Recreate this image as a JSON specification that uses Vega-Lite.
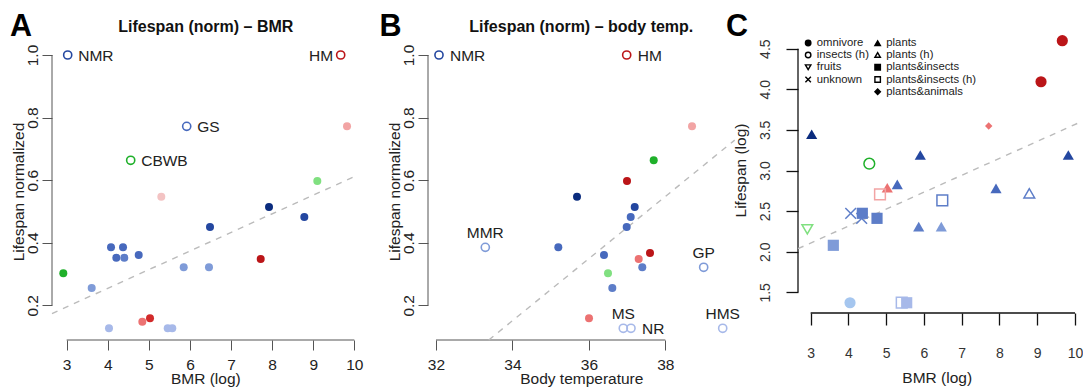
{
"$schema":"https://vega.github.io/schema/vega-lite/v6.json",
"background":"white",
"padding":{"left":10,"top":11,"right":0,"bottom":0},
"bounds":"flush",
"spacing":66,
"config":{"view":{"stroke":null},"font":"Liberation Sans"},
"datasets":{
"pA":[
{"bmr":3.025,"life":1.0,"tone":"blue2","label":"NMR"},
{"bmr":9.668,"life":1.0,"tone":"red1","label":"HM"},
{"bmr":5.921,"life":0.772,"tone":"blue3","label":"GS"},
{"bmr":4.558,"life":0.6635,"tone":"green1","label":"CBWB"},
{"bmr":9.822,"life":0.772,"tone":"red4"},
{"bmr":9.099,"life":0.5973,"tone":"green2"},
{"bmr":5.303,"life":0.5472,"tone":"red5"},
{"bmr":7.924,"life":0.5142,"tone":"blue1"},
{"bmr":8.783,"life":0.4823,"tone":"blue2"},
{"bmr":6.488,"life":0.4503,"tone":"blue2"},
{"bmr":4.079,"life":0.3854,"tone":"blue3"},
{"bmr":4.371,"life":0.3854,"tone":"blue3"},
{"bmr":4.208,"life":0.3522,"tone":"blue3"},
{"bmr":4.402,"life":0.3522,"tone":"blue4"},
{"bmr":4.753,"life":0.3608,"tone":"blue3"},
{"bmr":5.848,"life":0.3215,"tone":"blue5"},
{"bmr":6.463,"life":0.3215,"tone":"blue5"},
{"bmr":7.722,"life":0.3481,"tone":"red1"},
{"bmr":2.918,"life":0.3024,"tone":"green1"},
{"bmr":3.609,"life":0.2554,"tone":"blue5"},
{"bmr":5.028,"life":0.1585,"tone":"red2"},
{"bmr":4.841,"life":0.1477,"tone":"red3"},
{"bmr":4.030,"life":0.1266,"tone":"blue6"},
{"bmr":5.459,"life":0.1266,"tone":"blue6"},
{"bmr":5.570,"life":0.1266,"tone":"blue6"}
],
"pB":[
{"temp":32.078,"life":1.0,"tone":"blue2","label":"NMR"},
{"temp":36.989,"life":1.0,"tone":"red1","label":"HM"},
{"temp":38.698,"life":0.772,"tone":"red4"},
{"temp":37.696,"life":0.6635,"tone":"green1"},
{"temp":36.997,"life":0.5973,"tone":"red1"},
{"temp":35.689,"life":0.5472,"tone":"blue1"},
{"temp":37.199,"life":0.5142,"tone":"blue2"},
{"temp":37.094,"life":0.4823,"tone":"blue3"},
{"temp":36.989,"life":0.4503,"tone":"blue3"},
{"temp":33.290,"life":0.3854,"tone":"blue5","label":"MMR"},
{"temp":35.200,"life":0.3854,"tone":"blue3"},
{"temp":36.395,"life":0.3608,"tone":"blue3"},
{"temp":37.599,"life":0.3672,"tone":"red1"},
{"temp":37.303,"life":0.3481,"tone":"red3"},
{"temp":37.397,"life":0.3215,"tone":"blue4"},
{"temp":36.500,"life":0.3024,"tone":"green2"},
{"temp":36.613,"life":0.2554,"tone":"blue4"},
{"temp":39.003,"life":0.3215,"tone":"blue5","label":"GP"},
{"temp":36.003,"life":0.1585,"tone":"red3"},
{"temp":36.900,"life":0.1266,"tone":"blue6","label":"MS"},
{"temp":37.101,"life":0.1266,"tone":"blue6","label":"NR"},
{"temp":39.501,"life":0.1266,"tone":"blue6","label":"HMS"}
],
"pC":[
{"bmr":9.664,"life":4.598,"diet":"omnivore","tone":"red1"},
{"bmr":9.100,"life":4.093,"diet":"omnivore","tone":"red1"},
{"bmr":7.715,"life":3.548,"diet":"plants&animals","tone":"red3"},
{"bmr":3.027,"life":3.446,"diet":"plants","tone":"blue1"},
{"bmr":4.553,"life":3.084,"diet":"insects (h)","tone":"green1"},
{"bmr":5.903,"life":3.191,"diet":"plants","tone":"blue2"},
{"bmr":9.823,"life":3.191,"diet":"plants","tone":"blue2"},
{"bmr":5.294,"life":2.830,"diet":"plants","tone":"blue3"},
{"bmr":5.029,"life":2.788,"diet":"plants","tone":"red3"},
{"bmr":4.836,"life":2.707,"diet":"plants&insects (h)","tone":"red4"},
{"bmr":7.908,"life":2.781,"diet":"plants","tone":"blue3"},
{"bmr":8.790,"life":2.719,"diet":"plants (h)","tone":"blue4"},
{"bmr":6.486,"life":2.633,"diet":"plants&insects (h)","tone":"blue4"},
{"bmr":4.060,"life":2.473,"diet":"unknown","tone":"blue4"},
{"bmr":4.351,"life":2.411,"diet":"unknown","tone":"blue4"},
{"bmr":4.368,"life":2.473,"diet":"plants&insects","tone":"blue4"},
{"bmr":4.757,"life":2.411,"diet":"plants&insects","tone":"blue4"},
{"bmr":2.911,"life":2.276,"diet":"fruits","tone":"green2"},
{"bmr":3.600,"life":2.079,"diet":"plants&insects","tone":"blue5"},
{"bmr":5.861,"life":2.308,"diet":"plants","tone":"blue4"},
{"bmr":6.459,"life":2.308,"diet":"plants","tone":"blue5"},
{"bmr":4.042,"life":1.372,"diet":"omnivore","tone":"blue7"},
{"bmr":5.411,"life":1.372,"diet":"plants&insects (h)","tone":"blue6"},
{"bmr":5.543,"life":1.372,"diet":"plants&insects","tone":"blue6"}
],
"fitA":[{"bmr":2.643,"life":0.1737},{"bmr":10.089,"life":0.6168}],
"fitB":[{"temp":33.38,"life":0.0892},{"temp":39.815,"life":0.728}],
"fitC":[{"bmr":2.6646,"life":2.0373},{"bmr":10.1059,"life":3.5885}]
},
"hconcat":[
{
"width":310,"height":310,
"data":{"name":"pA"},
"layer":[
{"data":{"values":[{}]},"mark":{"type":"rule","color":"#555","strokeWidth":1,"clip":false},
 "encoding":{"x":{"datum":3,"type":"quantitative","scale":{"domain":[2.6431,10.1866],"nice":false,"zero":false}},"x2":{"datum":10},"y":{"datum":0.0892,"type":"quantitative","scale":{"domain":[0.0892,1.0799],"nice":false,"zero":false}}}},
{"data":{"values":[{}]},"mark":{"type":"rule","color":"#555","strokeWidth":1,"clip":false},
 "encoding":{"x":{"datum":2.6431,"type":"quantitative","scale":{"domain":[2.6431,10.1866],"nice":false,"zero":false}},"y":{"datum":0.2,"type":"quantitative","scale":{"domain":[0.0892,1.0799],"nice":false,"zero":false}},"y2":{"datum":1.0}}},
{"data":{"name":"fitA"},"mark":{"type":"line","color":"#bbbbbb","strokeWidth":1.4,"strokeDash":[6,6],"clip":false},
 "encoding":{"x":{"field":"bmr","type":"quantitative","scale":{"domain":[2.6431,10.1866],"nice":false,"zero":false}},"y":{"field":"life","type":"quantitative","scale":{"domain":[0.0892,1.0799],"nice":false,"zero":false}}}},
{"transform":[{"filter":"!datum.label"}],"mark":{"type":"circle","size":64,"opacity":1,"clip":false},
 "encoding":{
  "x":{"field":"bmr","type":"quantitative","scale":{"domain":[2.6431,10.1866],"nice":false,"zero":false},
   "axis":{"values":[3,4,5,6,7,8,9,10],"title":"BMR (log)","domain":false,"grid":false,"tickSize":10,"tickColor":"#555","tickWidth":1,"labelFontSize":15.5,"labelColor":"#222","labelBaseline":"alphabetic","labelPadding":19,"labelFlush":false,"labelOverlap":false,"titleFontSize":15.5,"titleFontWeight":"normal","titleColor":"#222","titleBaseline":"alphabetic","titleY":43.3,"titleX":153.3}},
  "y":{"field":"life","type":"quantitative","scale":{"domain":[0.0892,1.0799],"nice":false,"zero":false},
   "axis":{"values":[0.2,0.4,0.6,0.8,1.0],"format":".1f","title":"Lifespan normalized","domain":false,"grid":false,"tickSize":10,"tickColor":"#555","tickWidth":1,"labelFontSize":15.5,"labelColor":"#222","labelAngle":-90,"labelAlign":"center","labelBaseline":"alphabetic","labelPadding":4.7,"labelOverlap":false,"labelFlush":false,"titleFontSize":15.5,"titleFontWeight":"normal","titleColor":"#222","titleAngle":-90,"titleBaseline":"alphabetic","titleAlign":"center","titleX":-28.5,"titleY":161.5}},
  "color":{"field":"tone","type":"nominal","legend":null,"scale":{"domain":["blue1","blue2","blue3","blue4","blue5","blue6","blue7","red1","red2","red3","red4","red5","green1","green2"],"range":["#0b2c7e","#2447a0","#4769bd","#5d7dc8","#7f9bd8","#a7b9e9","#a5c6ef","#bb1518","#d22a2a","#ec7272","#f2a4a4","#f3c3c3","#1fb02a","#80e080"]}}}},
{"transform":[{"filter":"datum.label"}],"mark":{"type":"point","shape":"circle","filled":false,"size":66,"strokeWidth":1.6,"opacity":1,"clip":false},
 "encoding":{
  "x":{"field":"bmr","type":"quantitative","scale":{"domain":[2.6431,10.1866],"nice":false,"zero":false}},
  "y":{"field":"life","type":"quantitative","scale":{"domain":[0.0892,1.0799],"nice":false,"zero":false}},
  "color":{"field":"tone","type":"nominal","legend":null,"scale":{"domain":["blue1","blue2","blue3","blue4","blue5","blue6","blue7","red1","red2","red3","red4","red5","green1","green2"],"range":["#0b2c7e","#2447a0","#4769bd","#5d7dc8","#7f9bd8","#a7b9e9","#a5c6ef","#bb1518","#d22a2a","#ec7272","#f2a4a4","#f3c3c3","#1fb02a","#80e080"]}}}},
{"transform":[{"filter":{"field":"label","oneOf":["NMR","GS","CBWB"]}}],"mark":{"type":"text","align":"left","baseline":"middle","dx":10.5,"dy":1,"fontSize":15.5,"color":"#222","clip":false},
 "encoding":{"x":{"field":"bmr","type":"quantitative","scale":{"domain":[2.6431,10.1866],"nice":false,"zero":false}},"y":{"field":"life","type":"quantitative","scale":{"domain":[0.0892,1.0799],"nice":false,"zero":false}},"text":{"field":"label"}}},
{"transform":[{"filter":{"field":"label","oneOf":["HM"]}}],"mark":{"type":"text","align":"right","baseline":"middle","dx":-7.5,"dy":1,"fontSize":15.5,"color":"#222","clip":false},
 "encoding":{"x":{"field":"bmr","type":"quantitative","scale":{"domain":[2.6431,10.1866],"nice":false,"zero":false}},"y":{"field":"life","type":"quantitative","scale":{"domain":[0.0892,1.0799],"nice":false,"zero":false}},"text":{"field":"label"}}},
{"data":{"values":[{"t":"A"}]},"mark":{"type":"text","align":"left","baseline":"alphabetic","fontSize":30.5,"fontWeight":"bold","color":"#000","clip":false},
 "encoding":{"x":{"datum":1.6211,"type":"quantitative","scale":{"domain":[2.6431,10.1866],"nice":false,"zero":false}},"y":{"datum":1.0607,"type":"quantitative","scale":{"domain":[0.0892,1.0799],"nice":false,"zero":false}},"text":{"field":"t"}}},
{"data":{"values":[{"t":"Lifespan (norm) – BMR"}]},"mark":{"type":"text","align":"center","baseline":"alphabetic","fontSize":16,"fontWeight":"bold","color":"#111","clip":false},
 "encoding":{"x":{"datum":6.3856,"type":"quantitative","scale":{"domain":[2.6431,10.1866],"nice":false,"zero":false}},"y":{"datum":1.0745,"type":"quantitative","scale":{"domain":[0.0892,1.0799],"nice":false,"zero":false}},"text":{"field":"t"}}}
]
},
{
"width":304,"height":310,
"data":{"name":"pB"},
"layer":[
{"data":{"values":[{}]},"mark":{"type":"rule","color":"#555","strokeWidth":1,"clip":false},
 "encoding":{"x":{"datum":32,"type":"quantitative","scale":{"domain":[31.7907,39.7442],"nice":false,"zero":false}},"x2":{"datum":38},"y":{"datum":0.0892,"type":"quantitative","scale":{"domain":[0.0892,1.0799],"nice":false,"zero":false}}}},
{"data":{"values":[{}]},"mark":{"type":"rule","color":"#555","strokeWidth":1,"clip":false},
 "encoding":{"x":{"datum":31.7907,"type":"quantitative","scale":{"domain":[31.7907,39.7442],"nice":false,"zero":false}},"y":{"datum":0.2,"type":"quantitative","scale":{"domain":[0.0892,1.0799],"nice":false,"zero":false}},"y2":{"datum":1.0}}},
{"data":{"name":"fitB"},"mark":{"type":"line","color":"#bbbbbb","strokeWidth":1.4,"strokeDash":[6,6],"clip":false},
 "encoding":{"x":{"field":"temp","type":"quantitative","scale":{"domain":[31.7907,39.7442],"nice":false,"zero":false}},"y":{"field":"life","type":"quantitative","scale":{"domain":[0.0892,1.0799],"nice":false,"zero":false}}}},
{"transform":[{"filter":"!datum.label"}],"mark":{"type":"circle","size":64,"opacity":1,"clip":false},
 "encoding":{
  "x":{"field":"temp","type":"quantitative","scale":{"domain":[31.7907,39.7442],"nice":false,"zero":false},
   "axis":{"values":[32,34,36,38],"title":"Body temperature","domain":false,"grid":false,"tickSize":10,"tickColor":"#555","tickWidth":1,"labelFontSize":15.5,"labelColor":"#222","labelBaseline":"alphabetic","labelPadding":19,"labelFlush":false,"labelOverlap":false,"titleFontSize":15.5,"titleFontWeight":"normal","titleColor":"#222","titleBaseline":"alphabetic","titleY":43.3,"titleX":153.3}},
  "y":{"field":"life","type":"quantitative","scale":{"domain":[0.0892,1.0799],"nice":false,"zero":false},
   "axis":{"values":[0.2,0.4,0.6,0.8,1.0],"format":".1f","title":"Lifespan normalized","domain":false,"grid":false,"tickSize":10,"tickColor":"#555","tickWidth":1,"labelFontSize":15.5,"labelColor":"#222","labelAngle":-90,"labelAlign":"center","labelBaseline":"alphabetic","labelPadding":4.7,"labelOverlap":false,"labelFlush":false,"titleFontSize":15.5,"titleFontWeight":"normal","titleColor":"#222","titleAngle":-90,"titleBaseline":"alphabetic","titleAlign":"center","titleX":-28.5,"titleY":161.5}},
  "color":{"field":"tone","type":"nominal","legend":null,"scale":{"domain":["blue1","blue2","blue3","blue4","blue5","blue6","blue7","red1","red2","red3","red4","red5","green1","green2"],"range":["#0b2c7e","#2447a0","#4769bd","#5d7dc8","#7f9bd8","#a7b9e9","#a5c6ef","#bb1518","#d22a2a","#ec7272","#f2a4a4","#f3c3c3","#1fb02a","#80e080"]}}}},
{"transform":[{"filter":"datum.label"}],"mark":{"type":"point","shape":"circle","filled":false,"size":66,"strokeWidth":1.6,"opacity":1,"clip":false},
 "encoding":{
  "x":{"field":"temp","type":"quantitative","scale":{"domain":[31.7907,39.7442],"nice":false,"zero":false}},
  "y":{"field":"life","type":"quantitative","scale":{"domain":[0.0892,1.0799],"nice":false,"zero":false}},
  "color":{"field":"tone","type":"nominal","legend":null,"scale":{"domain":["blue1","blue2","blue3","blue4","blue5","blue6","blue7","red1","red2","red3","red4","red5","green1","green2"],"range":["#0b2c7e","#2447a0","#4769bd","#5d7dc8","#7f9bd8","#a7b9e9","#a5c6ef","#bb1518","#d22a2a","#ec7272","#f2a4a4","#f3c3c3","#1fb02a","#80e080"]}}}},
{"transform":[{"filter":{"field":"label","oneOf":["NMR","HM","NR"]}}],"mark":{"type":"text","align":"left","baseline":"middle","dx":11,"dy":1,"fontSize":15.5,"color":"#222","clip":false},
 "encoding":{"x":{"field":"temp","type":"quantitative","scale":{"domain":[31.7907,39.7442],"nice":false,"zero":false}},"y":{"field":"life","type":"quantitative","scale":{"domain":[0.0892,1.0799],"nice":false,"zero":false}},"text":{"field":"label"}}},
{"transform":[{"filter":{"field":"label","oneOf":["MMR","GP","MS","HMS"]}}],"mark":{"type":"text","align":"center","baseline":"alphabetic","dy":-9.4,"fontSize":15.5,"color":"#222","clip":false},
 "encoding":{"x":{"field":"temp","type":"quantitative","scale":{"domain":[31.7907,39.7442],"nice":false,"zero":false}},"y":{"field":"life","type":"quantitative","scale":{"domain":[0.0892,1.0799],"nice":false,"zero":false}},"text":{"field":"label"}}},
{"data":{"values":[{"t":"B"}]},"mark":{"type":"text","align":"left","baseline":"alphabetic","fontSize":30.5,"fontWeight":"bold","color":"#000","clip":false},
 "encoding":{"x":{"datum":30.5218,"type":"quantitative","scale":{"domain":[31.7907,39.7442],"nice":false,"zero":false}},"y":{"datum":1.0607,"type":"quantitative","scale":{"domain":[0.0892,1.0799],"nice":false,"zero":false}},"text":{"field":"t"}}},
{"data":{"values":[{"t":"Lifespan (norm) – body temp."}]},"mark":{"type":"text","align":"center","baseline":"alphabetic","fontSize":16,"fontWeight":"bold","color":"#111","clip":false},
 "encoding":{"x":{"datum":35.8014,"type":"quantitative","scale":{"domain":[31.7907,39.7442],"nice":false,"zero":false}},"y":{"datum":1.0745,"type":"quantitative","scale":{"domain":[0.0892,1.0799],"nice":false,"zero":false}},"text":{"field":"t"}}}
]
},
{
"width":281,"height":283,
"data":{"name":"pC"},
"layer":[
{"transform":[{"filter":"false"}],"mark":{"type":"point","opacity":1,"stroke":"black","size":30,"strokeWidth":1.4,"clip":false},
 "encoding":{
  "x":{"field":"bmr","type":"quantitative","scale":{"domain":[2.6646,10.1059],"nice":false,"zero":false}},
  "y":{"field":"life","type":"quantitative","scale":{"domain":[1.2456,4.7298],"nice":false,"zero":false}},
  "shape":{"field":"diet","type":"nominal","scale":{"domain":["omnivore","insects (h)","fruits","unknown"," ","plants","plants (h)","plants&insects","plants&insects (h)","plants&animals"],"range":["circle","circle","triangle-down","M-1,-1L1,1M-1,1L1,-1","M0,0","triangle-up","triangle-up","square","square","diamond"]},
   "legend":{"title":null,"orient":"none","legendX":750.5,"legendY":7,"padding":0,"columns":2,"columnPadding":2.5,"rowPadding":-0.7,"labelOffset":3,"symbolSize":30,"symbolStrokeWidth":1.4,"symbolFillColor":"transparent","symbolStrokeColor":"black","labelFontSize":11.3,"labelColor":"#222","labelFont":"Liberation Sans","labelLimit":200}},
  "fill":{"field":"diet","type":"nominal","scale":{"domain":["omnivore","insects (h)","fruits","unknown"," ","plants","plants (h)","plants&insects","plants&insects (h)","plants&animals"],"range":["black","transparent","transparent","transparent","transparent","black","transparent","black","transparent","black"]},
   "legend":{"title":null,"orient":"none","legendX":750.5,"legendY":7,"padding":0,"columns":2,"columnPadding":2.5,"rowPadding":-0.7,"labelOffset":3,"symbolSize":30,"symbolStrokeWidth":1.4,"symbolFillColor":"transparent","symbolStrokeColor":"black","labelFontSize":11.3,"labelColor":"#222","labelFont":"Liberation Sans","labelLimit":200}}}},
{"data":{"values":[{}]},"mark":{"type":"rule","color":"#111","strokeWidth":1.3,"clip":false},
 "encoding":{"x":{"datum":3,"type":"quantitative","scale":{"domain":[2.6646,10.1059],"nice":false,"zero":false}},"x2":{"datum":10},"y":{"datum":1.2456,"type":"quantitative","scale":{"domain":[1.2456,4.7298],"nice":false,"zero":false}}}},
{"data":{"values":[{}]},"mark":{"type":"rule","color":"#111","strokeWidth":1.3,"clip":false},
 "encoding":{"x":{"datum":2.6646,"type":"quantitative","scale":{"domain":[2.6646,10.1059],"nice":false,"zero":false}},"y":{"datum":1.5,"type":"quantitative","scale":{"domain":[1.2456,4.7298],"nice":false,"zero":false}},"y2":{"datum":4.5}}},
{"data":{"name":"fitC"},"mark":{"type":"line","color":"#bbbbbb","strokeWidth":1.4,"strokeDash":[6,6],"clip":false},
 "encoding":{"x":{"field":"bmr","type":"quantitative","scale":{"domain":[2.6646,10.1059],"nice":false,"zero":false}},"y":{"field":"life","type":"quantitative","scale":{"domain":[1.2456,4.7298],"nice":false,"zero":false}}}},
{"transform":[{"filter":{"field":"diet","oneOf":["omnivore","plants","plants&insects"]}}],"mark":{"type":"point","filled":true,"size":125,"opacity":1,"clip":false},
 "encoding":{
  "x":{"field":"bmr","type":"quantitative","scale":{"domain":[2.6646,10.1059],"nice":false,"zero":false},
   "axis":{"values":[3,4,5,6,7,8,9,10],"title":"BMR (log)","domain":false,"grid":false,"tickSize":12,"tickColor":"#111","tickWidth":1.3,"labelFontSize":14,"labelColor":"#333","labelBaseline":"alphabetic","labelPadding":32.7,"labelFlush":false,"labelOverlap":false,"titleFontSize":15.5,"titleFontWeight":"normal","titleColor":"#222","titleBaseline":"alphabetic","titleY":69,"titleX":138.7}},
  "y":{"field":"life","type":"quantitative","scale":{"domain":[1.2456,4.7298],"nice":false,"zero":false},
   "axis":{"values":[1.5,2.0,2.5,3.0,3.5,4.0,4.5],"format":".1f","title":"Lifespan (log)","domain":false,"grid":false,"tickSize":12,"tickColor":"#111","tickWidth":1.3,"labelFontSize":14,"labelColor":"#333","labelAngle":-90,"labelAlign":"center","labelBaseline":"alphabetic","labelPadding":16.7,"labelOverlap":false,"labelFlush":false,"titleFontSize":15.5,"titleFontWeight":"normal","titleColor":"#222","titleAngle":-90,"titleBaseline":"alphabetic","titleAlign":"center","titleX":-52.7,"titleY":140}},
  "shape":{"field":"diet","type":"nominal","scale":{"domain":["omnivore","insects (h)","fruits","unknown"," ","plants","plants (h)","plants&insects","plants&insects (h)","plants&animals"],"range":["circle","circle","triangle-down","M-1,-1L1,1M-1,1L1,-1","M0,0","triangle-up","triangle-up","square","square","diamond"]},
   "legend":{"title":null,"orient":"none","legendX":750.5,"legendY":7,"padding":0,"columns":2,"columnPadding":2.5,"rowPadding":-0.7,"labelOffset":3,"symbolSize":30,"symbolStrokeWidth":1.4,"symbolFillColor":"transparent","symbolStrokeColor":"black","labelFontSize":11.3,"labelColor":"#222","labelFont":"Liberation Sans","labelLimit":200}},
  "color":{"field":"tone","type":"nominal","legend":null,"scale":{"domain":["blue1","blue2","blue3","blue4","blue5","blue6","blue7","red1","red2","red3","red4","red5","green1","green2"],"range":["#0b2c7e","#2447a0","#4769bd","#5d7dc8","#7f9bd8","#a7b9e9","#a5c6ef","#bb1518","#d22a2a","#ec7272","#f2a4a4","#f3c3c3","#1fb02a","#80e080"]}}}},
{"transform":[{"filter":{"field":"diet","oneOf":["plants&animals"]}}],"mark":{"type":"point","filled":true,"size":55,"opacity":1,"clip":false},
 "encoding":{
  "x":{"field":"bmr","type":"quantitative","scale":{"domain":[2.6646,10.1059],"nice":false,"zero":false}},
  "y":{"field":"life","type":"quantitative","scale":{"domain":[1.2456,4.7298],"nice":false,"zero":false}},
  "shape":{"field":"diet","type":"nominal","scale":{"domain":["omnivore","insects (h)","fruits","unknown"," ","plants","plants (h)","plants&insects","plants&insects (h)","plants&animals"],"range":["circle","circle","triangle-down","M-1,-1L1,1M-1,1L1,-1","M0,0","triangle-up","triangle-up","square","square","diamond"]},
   "legend":{"title":null,"orient":"none","legendX":750.5,"legendY":7,"padding":0,"columns":2,"columnPadding":2.5,"rowPadding":-0.7,"labelOffset":3,"symbolSize":30,"symbolStrokeWidth":1.4,"symbolFillColor":"transparent","symbolStrokeColor":"black","labelFontSize":11.3,"labelColor":"#222","labelFont":"Liberation Sans","labelLimit":200}},
  "color":{"field":"tone","type":"nominal","legend":null,"scale":{"domain":["blue1","blue2","blue3","blue4","blue5","blue6","blue7","red1","red2","red3","red4","red5","green1","green2"],"range":["#0b2c7e","#2447a0","#4769bd","#5d7dc8","#7f9bd8","#a7b9e9","#a5c6ef","#bb1518","#d22a2a","#ec7272","#f2a4a4","#f3c3c3","#1fb02a","#80e080"]}}}},
{"transform":[{"filter":{"field":"diet","oneOf":["insects (h)","plants (h)","fruits","unknown","plants&insects (h)"]}}],"mark":{"type":"point","filled":false,"size":115,"strokeWidth":1.5,"opacity":1,"clip":false},
 "encoding":{
  "x":{"field":"bmr","type":"quantitative","scale":{"domain":[2.6646,10.1059],"nice":false,"zero":false}},
  "y":{"field":"life","type":"quantitative","scale":{"domain":[1.2456,4.7298],"nice":false,"zero":false}},
  "shape":{"field":"diet","type":"nominal","scale":{"domain":["omnivore","insects (h)","fruits","unknown"," ","plants","plants (h)","plants&insects","plants&insects (h)","plants&animals"],"range":["circle","circle","triangle-down","M-1,-1L1,1M-1,1L1,-1","M0,0","triangle-up","triangle-up","square","square","diamond"]},
   "legend":{"title":null,"orient":"none","legendX":750.5,"legendY":7,"padding":0,"columns":2,"columnPadding":2.5,"rowPadding":-0.7,"labelOffset":3,"symbolSize":30,"symbolStrokeWidth":1.4,"symbolFillColor":"transparent","symbolStrokeColor":"black","labelFontSize":11.3,"labelColor":"#222","labelFont":"Liberation Sans","labelLimit":200}},
  "color":{"field":"tone","type":"nominal","legend":null,"scale":{"domain":["blue1","blue2","blue3","blue4","blue5","blue6","blue7","red1","red2","red3","red4","red5","green1","green2"],"range":["#0b2c7e","#2447a0","#4769bd","#5d7dc8","#7f9bd8","#a7b9e9","#a5c6ef","#bb1518","#d22a2a","#ec7272","#f2a4a4","#f3c3c3","#1fb02a","#80e080"]}}}},
{"data":{"values":[{"t":"C"}]},"mark":{"type":"text","align":"left","baseline":"alphabetic","fontSize":30.5,"fontWeight":"bold","color":"#000","clip":false},
 "encoding":{"x":{"datum":0.7578,"type":"quantitative","scale":{"domain":[2.6646,10.1059],"nice":false,"zero":false}},"y":{"datum":4.656,"type":"quantitative","scale":{"domain":[1.2456,4.7298],"nice":false,"zero":false}},"text":{"field":"t"}}}
]
}
]
}
